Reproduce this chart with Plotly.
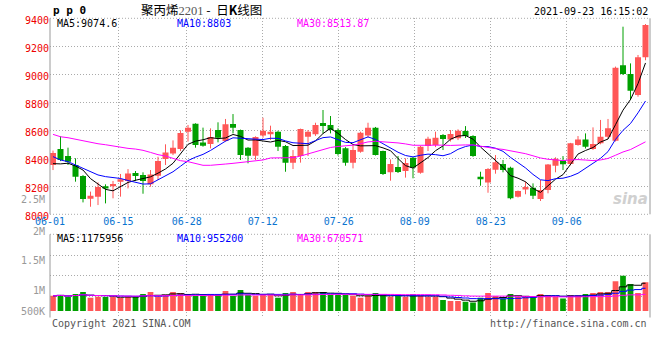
import numpy as np
import pandas as pd
import plotly.graph_objects as go

# ---------------- data ----------------
HOLIDAYS = ["2021-06-14", "2021-09-20", "2021-09-21"]
trade_days = [d for d in pd.bdate_range("2021-06-01", "2021-09-23")
              if d.strftime("%Y-%m-%d") not in HOLIDAYS]
date_labels = [d.strftime("%m-%d") for d in trade_days]

opens = [8352, 8466, 8416, 8352, 8273, 8111, 8126, 8200, 8202, 8233,
         8238, 8295, 8281, 8214, 8276, 8395, 8435, 8466, 8590, 8647,
         8512, 8502, 8602, 8523, 8645, 8602, 8476, 8419, 8562, 8571,
         8590, 8488, 8369, 8416, 8554, 8571, 8652, 8638, 8602, 8471,
         8369, 8447, 8562, 8619, 8452, 8300, 8338, 8309, 8404, 8297,
         8488, 8495, 8566, 8535, 8543, 8595, 8559, 8269, 8228, 8319,
         8359, 8333, 8126, 8178, 8190, 8109, 8174, 8347, 8386, 8359,
         8495, 8535, 8466, 8507, 8554, 8526, 9064, 9002, 8852, 9121]
highs = [8455, 8557, 8476, 8400, 8280, 8162, 8228, 8214, 8238, 8288,
         8323, 8309, 8300, 8316, 8411, 8500, 8528, 8600, 8638, 8650,
         8619, 8614, 8657, 8681, 8716, 8605, 8480, 8557, 8690, 8633,
         8597, 8495, 8459, 8612, 8602, 8654, 8745, 8702, 8614, 8480,
         8495, 8590, 8654, 8624, 8455, 8392, 8416, 8400, 8409, 8490,
         8554, 8590, 8573, 8602, 8607, 8630, 8565, 8304, 8330, 8423,
         8388, 8340, 8170, 8233, 8221, 8245, 8359, 8407, 8416, 8510,
         8559, 8578, 8621, 8674, 8681, 9055, 9340, 9078, 9138, 9359]
lows = [8316, 8380, 8352, 8233, 8085, 8054, 8066, 8078, 8114, 8126,
        8185, 8238, 8147, 8197, 8245, 8352, 8423, 8452, 8519, 8476,
        8483, 8471, 8514, 8519, 8578, 8388, 8364, 8388, 8547, 8531,
        8452, 8304, 8323, 8369, 8416, 8560, 8578, 8578, 8419, 8347,
        8328, 8440, 8547, 8420, 8281, 8240, 8295, 8262, 8257, 8290,
        8452, 8480, 8459, 8520, 8530, 8545, 8410, 8204, 8154, 8290,
        8300, 8107, 8120, 8143, 8109, 8095, 8150, 8300, 8316, 8350,
        8490, 8470, 8460, 8500, 8540, 8520, 8995, 8816, 8840, 9100]
closes = [8438, 8388, 8376, 8269, 8109, 8133, 8195, 8185, 8216, 8250,
          8292, 8273, 8238, 8285, 8381, 8442, 8476, 8581, 8619, 8495,
          8490, 8552, 8547, 8643, 8619, 8423, 8419, 8552, 8597, 8590,
          8483, 8369, 8416, 8609, 8590, 8638, 8631, 8602, 8431, 8369,
          8459, 8583, 8619, 8423, 8288, 8359, 8302, 8366, 8335, 8483,
          8540, 8547, 8538, 8573, 8597, 8559, 8416, 8257, 8323, 8371,
          8316, 8114, 8166, 8195, 8133, 8174, 8355, 8397, 8357, 8507,
          8535, 8483, 8502, 8554, 8614, 9047, 9002, 8883, 9121, 9352]
volumes = [644000, 672000, 588000, 714000, 798000, 560000, 602000, 588000, 602000, 560000,
           602000, 602000, 714000, 798000, 602000, 686000, 798000, 756000, 644000, 644000,
           630000, 714000, 714000, 840000, 630000, 882000, 672000, 644000, 672000, 672000,
           560000, 756000, 798000, 700000, 798000, 798000, 798000, 672000, 672000, 672000,
           644000, 560000, 644000, 756000, 644000, 602000, 630000, 602000, 714000, 644000,
           602000, 602000, 462000, 420000, 420000, 392000, 364000, 560000, 756000, 630000,
           532000, 714000, 588000, 630000, 588000, 714000, 672000, 602000, 532000, 672000,
           672000, 714000, 756000, 798000, 798000, 1260000, 1484000, 1134000, 756000, 1218000]

# moving-average values read off the chart where the window has no history yet
ma5_head = [8362, 8360, 8365, 8345]
ma10_head = [8412, 8388, 8376, 8352, 8328, 8304, 8281, 8269, 8264]
ma30_head = [8571, 8554, 8547, 8535, 8523, 8514, 8504, 8497, 8488, 8478,
             8471, 8466, 8457, 8442, 8426, 8416, 8400, 8383, 8376, 8364,
             8350, 8350, 8352, 8359, 8364, 8369, 8373, 8380, 8388]

tick_dates = ["06-01", "06-15", "06-28", "07-12", "07-26", "08-09", "08-23", "09-06"]
price_ticks = [8000, 8200, 8400, 8600, 8800, 9000, 9200, 9400]
vol_tick_text = ["2M", "1.5M", "1M", "500K"]

title_text = ("聚丙烯<span style='font-family:Liberation Serif;color:#555'>2201</span>"
              " - \u00a0日<b>K</b>线图")
code_text = "p p 0"
stamp_text = "2021-09-23 16:15:02"
price_ma_text = ["MA5:9074.6", "MA10:8803", "MA30:8513.87"]
vol_ma_text = ["MA5:1175956", "MA10:955200", "MA30:670571"]

# ---------------- styling ----------------
W, H = 660, 360
L_M, R_M = 50, 10
RED, GREEN = "#FF5757", "#00A000"
MA_COLORS = ["#000000", "#0000FF", "#FF00FF"]
GRID = "#AAAAAA"
BORDER = "#999999"
MONO = "DejaVu Sans Mono"
DOT = "1px,2px"

def px(x):
    return (x - L_M) / (W - L_M - R_M)

def py(y):
    return 1 - y / H

MAIN_TOP, MAIN_BOT = 18.3, 214.3
VOL_TOP, VOL_BOT = 234.3, 317.5

o, h, l, c = (np.array(a, dtype=float) for a in (opens, highs, lows, closes))
idx = np.arange(len(c))
up = c >= o
bar_colors = np.where(up, RED, GREEN)

cs = pd.Series(c)
ma5 = cs.rolling(5).mean().to_numpy()
ma10 = cs.rolling(10).mean().to_numpy()
ma30 = cs.rolling(30).mean().to_numpy()
ma5[:len(ma5_head)] = ma5_head
ma10[:len(ma10_head)] = ma10_head
ma30[:len(ma30_head)] = ma30_head

vs = pd.Series(volumes, dtype=float)
vma = [vs.rolling(n, min_periods=1).mean().to_numpy() for n in (5, 10, 30)]

fig = go.Figure()

# wicks
for mask, col in ((up, RED), (~up, GREEN)):
    xs, ys = [], []
    for i in idx[mask]:
        xs += [i, i, None]
        ys += [l[i], h[i], None]
    fig.add_trace(go.Scatter(x=xs, y=ys, mode="lines", line=dict(color=col, width=1),
                             xaxis="x", yaxis="y", hoverinfo="skip"))
# bodies
fig.add_trace(go.Bar(x=idx, y=np.abs(c - o), base=np.minimum(o, c), width=0.8,
                     marker=dict(color=bar_colors, line=dict(width=0)),
                     xaxis="x", yaxis="y", hoverinfo="skip"))
# price MAs
for arr, col in zip((ma5, ma10, ma30), MA_COLORS):
    fig.add_trace(go.Scatter(x=idx, y=arr, mode="lines", line=dict(color=col, width=1),
                             xaxis="x", yaxis="y", hoverinfo="skip"))
# volume
fig.add_trace(go.Bar(x=idx, y=volumes, width=0.76,
                     marker=dict(color=bar_colors, line=dict(width=0)),
                     xaxis="x2", yaxis="y2", hoverinfo="skip"))
for arr, col in zip(vma, MA_COLORS):
    fig.add_trace(go.Scatter(x=idx, y=arr, mode="lines", line=dict(color=col, width=1, shape="hvh"),
                             xaxis="x2", yaxis="y2", hoverinfo="skip"))

# helper (invisible) traces for the date-grid axes
tick_pos = [date_labels.index(t) for t in tick_dates]
fig.add_trace(go.Scatter(x=[tick_pos[0]], y=[None], mode="markers", marker=dict(opacity=0),
                         xaxis="x3", yaxis="y", hoverinfo="skip"))
fig.add_trace(go.Scatter(x=[tick_pos[0]], y=[None], mode="markers", marker=dict(opacity=0),
                         xaxis="x4", yaxis="y2", hoverinfo="skip"))

n = len(c)
cand_range = [-0.4, n - 0.4]
grid_range = [0, 600 / 7.6]

vol_range = [-273000, 3234000]
vol_grid = [vol_range[0] + (vol_range[1] - vol_range[0]) * f for f in (0.25, 0.5, 0.75)]

axis_common = dict(zeroline=False, fixedrange=True, ticks="", showline=False)

fig.update_layout(
    width=W, height=H,
    margin=dict(l=L_M, r=R_M, t=0, b=0, autoexpand=False),
    paper_bgcolor="white", plot_bgcolor="white",
    showlegend=False, barmode="overlay", hovermode=False,
    xaxis=dict(domain=[0, 1], range=cand_range, anchor="y", showgrid=False,
               showticklabels=False, **axis_common),
    yaxis=dict(domain=[py(MAIN_BOT), py(MAIN_TOP)], range=[8000, 9400], anchor="x",
               tickvals=price_ticks, ticktext=[str(v) for v in price_ticks],
               tickfont=dict(family=MONO, size=10, color="#EE0000"), ticklabelshift=2,
               showgrid=True, gridcolor=GRID, griddash=DOT, gridwidth=1, **axis_common),
    xaxis2=dict(domain=[0, 1], range=cand_range, anchor="y2", showgrid=False,
                showticklabels=False, **axis_common),
    yaxis2=dict(domain=[py(VOL_BOT), py(VOL_TOP)], range=vol_range, anchor="x2",
                tickvals=vol_grid, showticklabels=False,
                showgrid=True, gridcolor=GRID, griddash=DOT, gridwidth=1, **axis_common),
    xaxis3=dict(overlaying="x", anchor="y", range=grid_range, side="bottom",
                tickvals=tick_pos, ticktext=tick_dates,
                tickfont=dict(family=MONO, size=10, color="#0A74D0"),
                showgrid=True, gridcolor=GRID, griddash=DOT, gridwidth=1, **axis_common),
    xaxis4=dict(overlaying="x2", anchor="y2", range=grid_range, tickvals=tick_pos,
                showticklabels=False,
                showgrid=True, gridcolor=GRID, griddash=DOT, gridwidth=1, **axis_common),
)

ann = []
def text(x, y, s, color="#000000", size=10, xanchor="left", family=MONO, yanchor="middle"):
    ann.append(dict(x=px(x), y=py(y), xref="paper", yref="paper", text=s, showarrow=False,
                    xanchor=xanchor, yanchor=yanchor,
                    font=dict(family=family, size=size, color=color)))

text(51, 10, "<b>" + code_text + "</b>", size=11)
text(139, 9, title_text, size=12.5, xanchor="left", family="Noto Sans CJK SC")
text(650, 11.5, stamp_text, xanchor="right")
for s, x, col in zip(price_ma_text, (55, 175, 295), MA_COLORS):
    text(x, 24, s, color=col)
for s, x, col in zip(vol_ma_text, (55, 175, 295), MA_COLORS):
    text(x, 238.5, s, color=col)
for s, y in zip(vol_tick_text, (231, 260, 290.5, 311)):
    text(47, y, s, color="#999999", xanchor="right")
text(47, 199, "2.5M", color="#999999", xanchor="right")
text(50, 323.5, "Copyright 2021 SINA.COM", color="#555555")
text(649, 323.5, "http://finance.sina.com.cn", color="#555555", xanchor="right")
text(650, 199, "<b><i>sina</i></b>", color="#D0D0D0", size=15, xanchor="right",
     family="DejaVu Sans")
fig.update_layout(annotations=ann)

shapes = []
def line(x0, y0, x1, y1, color=BORDER, dash="solid"):
    shapes.append(dict(type="line", xref="paper", yref="paper", x0=px(x0), y0=py(y0),
                       x1=px(x1), y1=py(y1), line=dict(color=color, width=1, dash=dash), layer="above"))

for top, bot in ((MAIN_TOP, MAIN_BOT), (VOL_TOP, VOL_BOT)):
    line(50, top, 50, bot)
    line(650, top, 650, bot)
    line(50, top, 650, top, color=GRID, dash=DOT)
line(50, MAIN_BOT, 650, MAIN_BOT, color=GRID, dash=DOT)
fig.update_layout(shapes=shapes)

fig.write_html("out.html", config={"displayModeBar": False},
               post_script="document.body.style.margin='0';document.body.style.padding='0';")
